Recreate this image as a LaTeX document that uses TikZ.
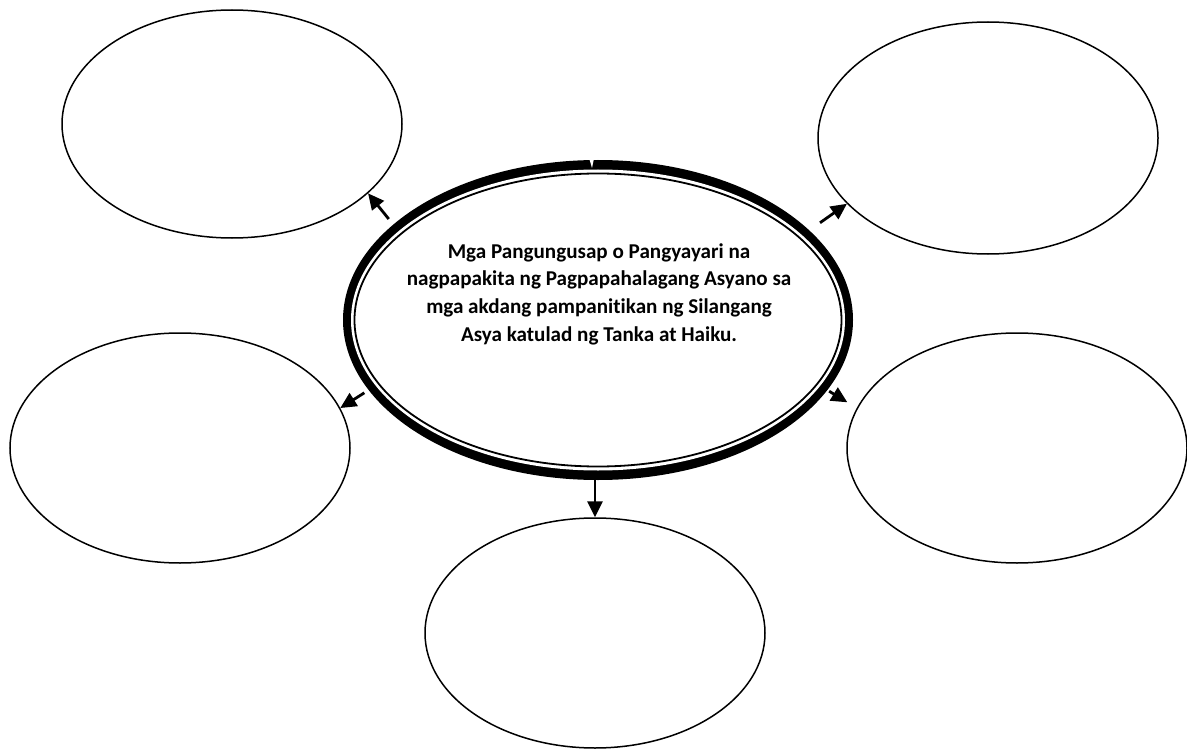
\documentclass[tikz,border=0pt]{standalone}
\usepackage{fontspec}
\setmainfont{Carlito}[Ligatures=NoCommon]
\usetikzlibrary{shapes.geometric,arrows.meta}
\begin{document}
\begin{tikzpicture}[x=1pt,y=-1pt,
  bubble/.style={ellipse, draw, line width=1.5pt, minimum width=340pt, inner sep=0pt},
  arr/.style={line width=2.8pt, -{Triangle[length=16pt,width=15pt]}},
  ring/.style={ellipse, inner sep=0pt}
]
\useasboundingbox (0,0) rectangle (1187,749);
% central ellipse: thick outer band, white gap, thin inner line
\node[ring, fill=black, minimum width=510pt, minimum height=320pt] (c) at (598,320) {};
\node[ring, fill=white, minimum width=494pt, minimum height=301pt] (ci) at (c.center) {};
\node[ring, draw, line width=1.8pt, minimum width=487pt, minimum height=293pt] (cl) at (c.center) {};
\fill[white] (588.5,156) -- (594.5,156) -- (592,168) -- cycle;
\node[font=\bfseries\fontsize{21.1}{27.7}\selectfont, align=center, inner sep=0pt] (t) at (599,294)
  {Mga Pangungusap o Pangyayari na\\
   nagpapakita ng Pagpapahalagang Asyano sa\\
   mga akdang pampanitikan ng Silangang\\
   Asya katulad ng Tanka at Haiku.};
% outer bubbles
\node[bubble, minimum height=228pt] (tl) at (232,124) {};
\node[bubble, minimum height=232pt] (tr) at (988,138) {};
\node[bubble, minimum height=230pt] (ml) at (180,448) {};
\node[bubble, minimum height=230pt] (mr) at (1017,448) {};
\node[bubble, minimum height=230pt] (b) at (595,633) {};
% connectors
\draw[arr, shorten <=7pt] (c.155) -- (tl.-27);
\draw[arr, shorten <=13pt] (c.23.6) -- (tr.205.4);
\draw[arr, shorten <=5pt] (c.197) -- (ml.14);
\draw[arr, shorten <=2pt, shorten >=11pt] (c.-17.6) -- (mr.166.5);
\draw[arr] (c.south -| b.north) -- (b.north);
\end{tikzpicture}
\end{document}
